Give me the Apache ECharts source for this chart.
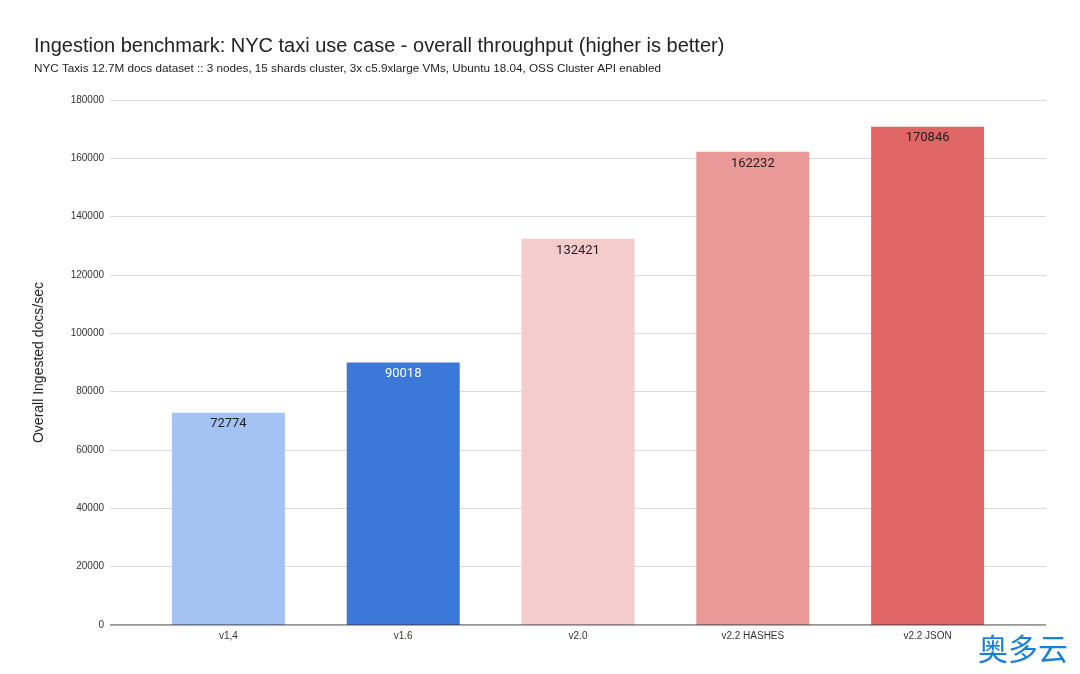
<!DOCTYPE html>
<html><head><meta charset="utf-8">
<script src="https://cdn.jsdelivr.net/npm/echarts@6/dist/echarts.min.js"></script>
<style>html,body{margin:0;padding:0;background:#fff}#c{width:1080px;height:674px}</style>
</head><body><div id="c"></div>
<script>
const categories = ['v1,4','v1.6','v2.0','v2.2 HASHES','v2.2 JSON'];
const values = [72774, 90018, 132421, 162232, 170846];
const colors = ['#a4c2f4','#3c78d8','#f4cccc','#ea9999','#e06666'];
const labelColors = ['#222','#fff','#222','#222','#222'];
const F = 'Liberation Sans, Arial, sans-serif';
const chart = echarts.init(document.getElementById('c'));
chart.setOption({
  animation:false,
  title:[{text:'Ingestion benchmark: NYC taxi use case - overall throughput (higher is better)',left:29,top:31,
    textStyle:{fontFamily:F,fontSize:20,fontWeight:'normal',color:'#222'}},
   {text:'NYC Taxis 12.7M docs dataset :: 3 nodes, 15 shards cluster, 3x c5.9xlarge VMs, Ubuntu 18.04, OSS Cluster API enabled',left:29,top:58,
    textStyle:{fontFamily:F,fontSize:11.7,fontWeight:'normal',color:'#222'}}],
  grid:[{left:110,right:34,top:100,bottom:49},{left:141,right:65,top:100,bottom:49}],
  xAxis:[{gridIndex:0,type:'value',show:false,min:0,max:1},
    {gridIndex:1,type:'category',data:categories,axisTick:{show:false},
     axisLine:{show:false},
     axisLabel:{fontFamily:F,fontSize:10,color:'#333',margin:6}}],
  yAxis:[{gridIndex:0,type:'value',min:0,max:180000,interval:20000,
     name:'Overall Ingested docs/sec',nameLocation:'middle',nameGap:64,
     nameTextStyle:{fontFamily:F,fontSize:14,color:'#222'},
     axisLabel:{fontFamily:F,fontSize:10,color:'#333',margin:6,formatter:v=>String(v)},
     axisLine:{show:false},axisTick:{show:false},
     splitLine:{lineStyle:{color:'#d9d9d9'}}},
    {gridIndex:1,type:'value',min:0,max:180000,show:false,splitLine:{show:false}}],
  series:[
    {type:'line',xAxisIndex:0,yAxisIndex:0,data:[[0,0],[1,0]],symbol:'none',lineStyle:{color:'#333',width:1},z:5,silent:true},
    {type:'bar',xAxisIndex:1,yAxisIndex:1,barWidth:113,
     data:values.map((v,i)=>({value:v,itemStyle:{color:colors[i]},label:{color:labelColors[i]}})),
     label:{show:true,position:'insideTop',distance:5,fontFamily:'Roboto',fontSize:13}}
  ],
  graphic:[{type:'text',right:12,bottom:10,style:{text:'奥多云',fontFamily:'Noto Sans CJK SC',fontSize:30,fill:'#1a7fd6'}}]
});
</script></body></html>
